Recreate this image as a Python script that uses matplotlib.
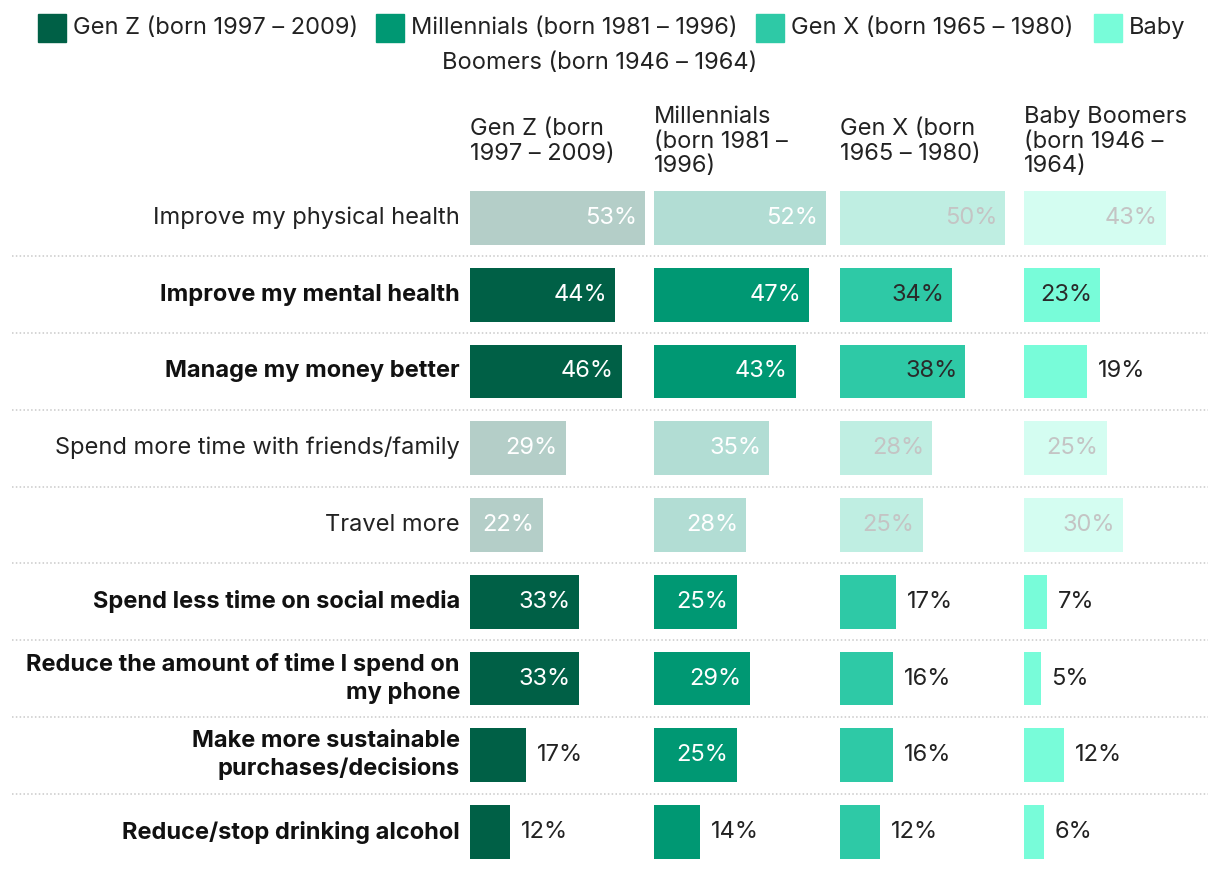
import matplotlib.pyplot as plt
from matplotlib.patches import Rectangle

plt.rcParams['font.family'] = ['Inter', 'DejaVu Sans']

# data
rows = ["Improve my physical health",
        "Improve my mental health",
        "Manage my money better",
        "Spend more time with friends/family",
        "Travel more",
        "Spend less time on social media",
        "Reduce the amount of time I spend on\nmy phone",
        "Make more sustainable\npurchases/decisions",
        "Reduce/stop drinking alcohol"]
highlight = [False, True, True, False, False, True, True, True, True]

groups = ["Gen Z (born 1997 \u2013 2009)", "Millennials (born 1981 \u2013 1996)",
          "Gen X (born 1965 \u2013 1980)", "Baby Boomers (born 1946 \u2013 1964)"]
headers = ["Gen Z (born\n1997 \u2013 2009)", "Millennials\n(born 1981 \u2013\n1996)",
           "Gen X (born\n1965 \u2013 1980)", "Baby Boomers\n(born 1946 \u2013\n1964)"]

gen_z = [53, 44, 46, 29, 22, 33, 33, 17, 12]
millennials = [52, 47, 43, 35, 28, 25, 29, 25, 14]
gen_x = [50, 34, 38, 28, 25, 17, 16, 16, 12]
boomers = [43, 23, 19, 25, 30, 7, 5, 12, 6]
series = [gen_z, millennials, gen_x, boomers]

colors = ["#006046", "#009873", "#2ec9a6", "#78fcd9"]
faded = ["#b4cec8", "#b2ddd4", "#bfeee2", "#d4fdf1"]
txt_in = ["white", "white", "#2a2a2a", "#2a2a2a"]
txt_in_faded = ["white", "white", "#c4c4c4", "#c4c4c4"]

FS = 17
W, H = 1220, 872
fig = plt.figure(figsize=(W / 100, H / 100), dpi=100)

n = len(rows)
top_px, bot_px = 179.6, 870.4
ax_b = (H - bot_px) / H
ax_h = (bot_px - top_px) / H
ylim = (n - 0.5, -0.5)

# background axes for labels and separators
bg = fig.add_axes([0, ax_b, 1, ax_h])
bg.set_xlim(0, 1)
bg.set_ylim(*ylim)
bg.axis("off")
for i in range(n - 1):
    bg.plot([12 / W, 1208 / W], [i + 0.5, i + 0.5], color="#c9c9c9",
            lw=1.1, ls=(0, (1, 1.5)))
for i, lab in enumerate(rows):
    bg.text(460 / W, i, lab, ha="right", va="center", fontsize=FS,
            color="#111111" if highlight[i] else "#222222",
            fontweight="bold" if highlight[i] else "normal",
            linespacing=1.3)

col_left = [470, 654, 840, 1024]
col_w = 180
px_per = 3.3
for k in range(4):
    ax = fig.add_axes([col_left[k] / W, ax_b, col_w / W, ax_h])
    ax.set_xlim(0, col_w / px_per)
    ax.set_ylim(*ylim)
    ax.axis("off")
    vals = series[k]
    cols = [colors[k] if h else faded[k] for h in highlight]
    ax.barh(range(n), vals, height=0.70, color=cols)
    for i, v in enumerate(vals):
        if v >= 20:
            c = txt_in[k] if highlight[i] else txt_in_faded[k]
            ax.text(v - 8 / px_per, i, f"{v}%", ha="right", va="center",
                    fontsize=FS, color=c)
        else:
            ax.text(v + 11 / px_per, i, f"{v}%", ha="left", va="center",
                    fontsize=FS, color="#222222")
    ax.text(0, 1.0 + 38 / (bot_px - top_px), headers[k], transform=ax.transAxes,
            ha="left", va="center", fontsize=FS, color="#222222",
            linespacing=1.17)

# legend drawn by hand
leg_x = [38, 376, 756, 1094]
for k in range(4):
    fig.patches.append(Rectangle((leg_x[k] / W, 1 - 42 / H), 28 / W, 28 / H,
                                 transform=fig.transFigure, color=colors[k]))
    lab = groups[k] if k < 3 else "Baby"
    fig.text((leg_x[k] + 35) / W, 1 - 28 / H, lab, ha="left", va="center",
             fontsize=FS, color="#222222")
fig.text(600 / W, 1 - 63 / H, "Boomers (born 1946 \u2013 1964)", ha="center",
         va="center", fontsize=FS, color="#222222")

fig.savefig("out.png", dpi=100)
